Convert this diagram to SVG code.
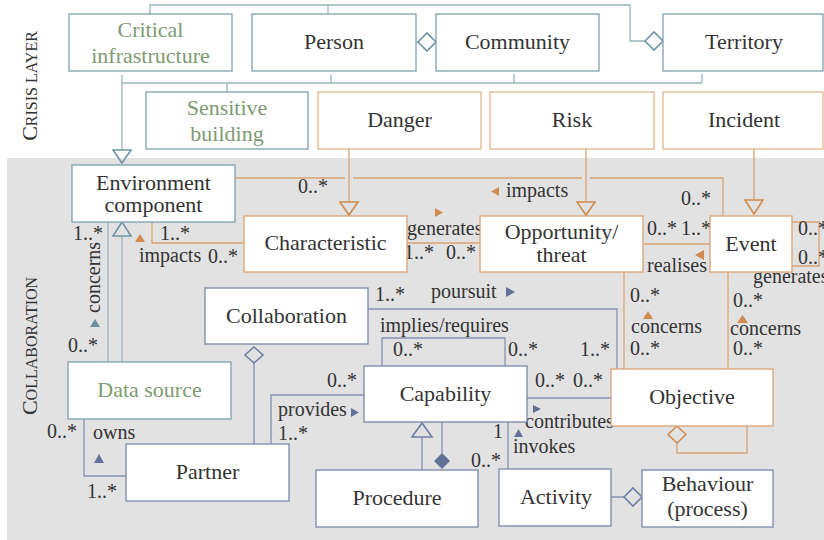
<svg xmlns="http://www.w3.org/2000/svg" width="824" height="540" viewBox="0 0 824 540">
<style>
text{font-family:"Liberation Serif","Times New Roman",serif;fill:#333}
.n{font-size:22px;text-anchor:middle}
.gr{fill:#7e9a72}
.m{font-size:20px}
.bt{fill:#fff;stroke:#7fa0ad;stroke-width:1.3}
.bo{fill:#fff;stroke:#dba274;stroke-width:1.3}
.bo2{fill:#fff;stroke:#e4b48a;stroke-width:1.3}
.bs{fill:#fff;stroke:#7c88ab;stroke-width:1.3}
.lt{fill:none;stroke:#9ab4be;stroke-width:1.3}
.lo{fill:none;stroke:#d9a372;stroke-width:1.3}
.ls{fill:none;stroke:#8792b2;stroke-width:1.3}
.ht{fill:none;stroke:#6f95a3;stroke-width:1.6}
.ho{fill:none;stroke:#d08c4f;stroke-width:1.6}
.hs{fill:none;stroke:#6f7ea5;stroke-width:1.6}
.dt{fill:#fff;stroke:#6f95a3;stroke-width:1.6}
.fo{fill:#d08c4f}
.fs{fill:#62719a}
.ft{fill:#6b8f9c}
</style>
<rect x="7" y="158" width="817" height="382" fill="#e2e2e2"/>
<text transform="translate(37,86) rotate(-90)" text-anchor="middle"><tspan font-size="22">C</tspan><tspan font-size="16">RISIS LAYER</tspan></text>
<text transform="translate(37,346) rotate(-90)" text-anchor="middle"><tspan font-size="22">C</tspan><tspan font-size="16">OLLABORATION</tspan></text>

<g id="connectors">
  <path class="lt" d="M150,14 V5 H630 V41 H645 M328,5 V14"/>
  <path class="dt" d="M645,41 L654,32 L663,41 L654,50 Z"/>
  <path class="lt" d="M416,42 H418"/>
  <path class="dt" d="M418,42 L427,33 L436,42 L427,51 Z"/>
  <path class="lt" d="M122,75 V150 M122,83 H702 M331,75 V83 M514,74 V83 M702,74 V83 M227,83 V92"/>
  <path class="ht" d="M113,150 H131 L122,163 Z"/>
  <path class="lt" d="M122,362 V236 M108,222 V362"/>
  <path class="ht" d="M113,236 H131 L122,222 Z"/>

  <path class="lo" d="M235,178 H345 M353,178 H582 M590,178 H723 V216"/>
  <path class="lo" d="M349,149 V202 M586,149 V202 M754,149 V200"/>
  <path class="ho" d="M340,202 H358 L349,215 Z M577,202 H595 L586,215 Z M745,200 H763 L754,214 Z"/>
  <path class="lo" d="M152,222 V243 H244 M407,243 H480 M643,244 H710 M792,222 H819 V266 H792 M624,272 V369 M728,272 V369 M677,443 V453 H747 V426"/>
  <path class="ho" d="M677,426 L686,434.5 L677,443 L668,434.5 Z"/>

  <path class="ls" d="M368,309 H617 V369 M382,366 V338 H505 V366 M527,398 H611 M254,363 V444 M271,444 V395 H364 M84,419 V476 H126 M422,437 V470 M442,422 V453 M508,422 V469 M611,497 H624"/>
  <path class="hs" d="M254,347 L263,355 L254,363 L245,355 Z M412,437 H432 L422,423 Z M624,497 L633,488 L642,497 L633,506 Z"/>
  <path class="fs" d="M442,453 L450,461 L442,469 L434,461 Z"/>

  <path class="fo" d="M491,191.5 L499,187 L499,196 Z M135,242 H145 L140,234 Z M435,208 L443,212.5 L435,217 Z M695,255 L704,250 L704,260 Z M643,319 H653 L648,311 Z M737,323 H748 L742.5,315 Z"/>
  <path class="ft" d="M90,327 H100 L95,319 Z"/>
  <path class="fs" d="M506,287 L515,292 L506,297 Z M351,408 L359,412.5 L351,417 Z M533,405 L541,409 L533,413 Z M514,437 H523 L518.5,429 Z M94,463 H104 L99,454 Z"/>

  <g class="m">
    <text x="298" y="193">0..*</text>
    <text x="506" y="197">impacts</text>
    <text x="681" y="205">0..*</text>
    <text x="73" y="240">1..*</text>
    <text x="160" y="240">1..*</text>
    <text x="139" y="262">impacts</text>
    <text x="208" y="263">0..*</text>
    <text transform="translate(100,313) rotate(-90)">concerns</text>
    <text x="68" y="352">0..*</text>
    <text x="407" y="235">generates</text>
    <text x="404" y="259">1..*</text>
    <text x="446" y="259">0..*</text>
    <text x="647" y="235">0..*</text>
    <text x="681" y="235">1..*</text>
    <text x="647" y="272">realises</text>
    <text x="798" y="235">0..*</text>
    <text x="798" y="264">0..*</text>
    <text x="753" y="283">generates</text>
    <text x="375" y="301">1..*</text>
    <text x="431" y="298">poursuit</text>
    <text x="380" y="332">implies/requires</text>
    <text x="393" y="356">0..*</text>
    <text x="508" y="356">0..*</text>
    <text x="580" y="356">1..*</text>
    <text x="630" y="302">0..*</text>
    <text x="631" y="333">concerns</text>
    <text x="630" y="355">0..*</text>
    <text x="733" y="307">0..*</text>
    <text x="730" y="335">concerns</text>
    <text x="733" y="355">0..*</text>
    <text x="327" y="387">0..*</text>
    <text x="278" y="416">provides</text>
    <text x="278" y="440">1..*</text>
    <text x="535" y="387">0..*</text>
    <text x="573" y="387">0..*</text>
    <text x="525" y="428">contributes</text>
    <text x="493" y="438">1</text>
    <text x="471" y="467">0..*</text>
    <text x="513" y="453">invokes</text>
    <text x="47" y="438">0..*</text>
    <text x="93" y="439">owns</text>
    <text x="87" y="498">1..*</text>
  </g>
</g>

<g id="critical-infrastructure"><rect class="bt" x="69" y="14" width="163" height="57"/><text class="n gr" x="150.5" y="37">Critical</text><text class="n gr" x="150.5" y="63">infrastructure</text></g>
<g id="person"><rect class="bt" x="252" y="14" width="164" height="57"/><text class="n" x="334" y="49">Person</text></g>
<g id="community"><rect class="bt" x="436" y="14" width="163" height="57"/><text class="n" x="517.5" y="49">Community</text></g>
<g id="territory"><rect class="bt" x="663" y="14" width="160" height="57"/><text class="n" x="744" y="49">Territory</text></g>
<g id="sensitive-building"><rect class="bt" x="146" y="92" width="162" height="57"/><text class="n gr" x="227" y="115">Sensitive</text><text class="n gr" x="227" y="141">building</text></g>
<g id="danger"><rect class="bo2" x="318" y="92" width="163" height="57"/><text class="n" x="399.5" y="127">Danger</text></g>
<g id="risk"><rect class="bo2" x="490" y="92" width="164" height="57"/><text class="n" x="572" y="127">Risk</text></g>
<g id="incident"><rect class="bo2" x="663" y="92" width="160" height="57"/><text class="n" x="744" y="127">Incident</text></g>
<g id="environment-component"><rect class="bt" x="72" y="165" width="163" height="57"/><text class="n" x="153.5" y="190">Environment</text><text class="n" x="153.5" y="212">component</text></g>
<g id="characteristic"><rect class="bo" x="244" y="216" width="163" height="56"/><text class="n" x="325.5" y="250">Characteristic</text></g>
<g id="opportunity-threat"><rect class="bo" x="480" y="216" width="163" height="56"/><text class="n" x="561.5" y="239">Opportunity/</text><text class="n" x="561.5" y="262">threat</text></g>
<g id="event"><rect class="bo" x="710" y="216" width="82" height="56"/><text class="n" x="751" y="251">Event</text></g>
<g id="collaboration"><rect class="bs" x="205" y="288" width="163" height="56"/><text class="n" x="286.5" y="323">Collaboration</text></g>
<g id="data-source"><rect class="bt" x="68" y="362" width="163" height="57"/><text class="n gr" x="149.5" y="397">Data source</text></g>
<g id="capability"><rect class="bs" x="364" y="366" width="163" height="56"/><text class="n" x="445.5" y="401">Capability</text></g>
<g id="objective"><rect class="bo" x="611" y="369" width="162" height="57"/><text class="n" x="692" y="404">Objective</text></g>
<g id="partner"><rect class="bs" x="126" y="444" width="163" height="57"/><text class="n" x="207.5" y="479">Partner</text></g>
<g id="procedure"><rect class="bs" x="316" y="470" width="162" height="57"/><text class="n" x="397" y="505">Procedure</text></g>
<g id="activity"><rect class="bs" x="499" y="469" width="112" height="57"/><text class="n" x="556" y="504">Activity</text></g>
<g id="behaviour"><rect class="bs" x="642" y="470" width="131" height="57"/><text class="n" x="707.5" y="491">Behaviour</text><text class="n" x="707.5" y="516">(process)</text></g>
</svg>
